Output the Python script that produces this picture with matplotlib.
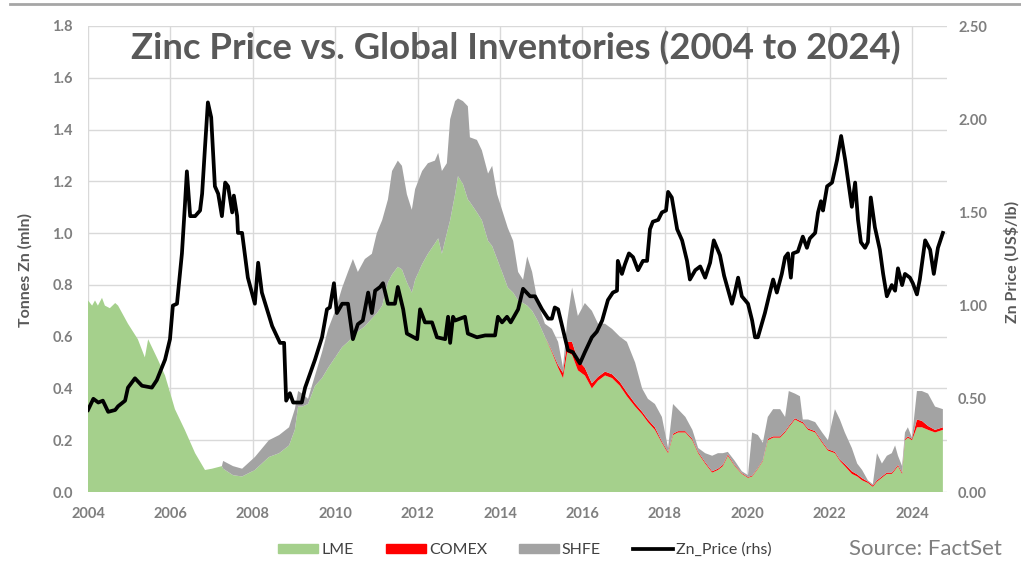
import matplotlib
matplotlib.use("Agg")
import matplotlib.pyplot as plt
from matplotlib.patches import Patch
from matplotlib.lines import Line2D

plt.rcParams['font.family'] = ['Lato', 'DejaVu Sans']

# Inventories (mln tonnes), stacked: LME, COMEX, SHFE
inv_years = [
    2004.00, 2004.10, 2004.17, 2004.24, 2004.34, 2004.41, 2004.53, 2004.66, 2004.73, 2004.97,
    2005.21, 2005.38, 2005.46, 2005.55, 2005.70, 2005.87, 2006.11, 2006.35, 2006.60, 2006.84,
    2007.01, 2007.25, 2007.28, 2007.52, 2007.74, 2008.05, 2008.39, 2008.64, 2008.88, 2009.02,
    2009.10, 2009.20, 2009.34, 2009.51, 2009.68, 2009.83, 2010.00, 2010.17, 2010.31, 2010.43,
    2010.55, 2010.72, 2010.89, 2011.01, 2011.14, 2011.28, 2011.38, 2011.52, 2011.62, 2011.74,
    2011.86, 2011.94, 2012.11, 2012.25, 2012.42, 2012.50, 2012.59, 2012.71, 2012.79, 2012.91,
    2012.98, 2013.10, 2013.22, 2013.27, 2013.44, 2013.56, 2013.71, 2013.81, 2013.93, 2014.05,
    2014.19, 2014.32, 2014.44, 2014.56, 2014.66, 2014.78, 2014.92, 2015.09, 2015.26, 2015.41,
    2015.53, 2015.63, 2015.75, 2015.89, 2016.06, 2016.23, 2016.38, 2016.55, 2016.72, 2016.91,
    2017.08, 2017.28, 2017.45, 2017.59, 2017.76, 2017.93, 2018.08, 2018.20, 2018.32, 2018.50,
    2018.67, 2018.81, 2018.98, 2019.15, 2019.29, 2019.41, 2019.53, 2019.70, 2019.87, 2020.02,
    2020.12, 2020.26, 2020.38, 2020.50, 2020.63, 2020.80, 2020.92, 2021.01, 2021.16, 2021.28,
    2021.35, 2021.48, 2021.65, 2021.82, 2021.96, 2022.13, 2022.25, 2022.37, 2022.54, 2022.67,
    2022.79, 2022.93, 2023.05, 2023.15, 2023.27, 2023.39, 2023.51, 2023.59, 2023.66, 2023.76,
    2023.83, 2023.90, 2024.00, 2024.12, 2024.24, 2024.39, 2024.56, 2024.75,
]
lme = [
    0.74, 0.72, 0.74, 0.72, 0.75, 0.72, 0.71, 0.73, 0.72, 0.65,
    0.59, 0.52, 0.59, 0.56, 0.51, 0.45, 0.32, 0.24, 0.15, 0.085,
    0.09, 0.10, 0.09, 0.065, 0.06, 0.085, 0.135, 0.15, 0.18, 0.24,
    0.33, 0.33, 0.34, 0.41, 0.44, 0.48, 0.52, 0.56, 0.58, 0.60,
    0.62, 0.64, 0.67, 0.69, 0.72, 0.81, 0.84, 0.87, 0.86, 0.81,
    0.77, 0.82, 0.88, 0.92, 0.96, 0.98, 0.92, 1.00, 1.05, 1.15,
    1.22, 1.19, 1.13, 1.12, 1.08, 1.05, 0.97, 0.95, 0.90, 0.85,
    0.79, 0.77, 0.74, 0.73, 0.72, 0.70, 0.66, 0.60, 0.54, 0.48,
    0.44, 0.54, 0.53, 0.47, 0.45, 0.40, 0.43, 0.45, 0.44, 0.41,
    0.37, 0.33, 0.30, 0.27, 0.24, 0.19, 0.15, 0.22, 0.23, 0.23,
    0.20, 0.15, 0.11, 0.075, 0.085, 0.10, 0.14, 0.10, 0.07, 0.055,
    0.06, 0.09, 0.12, 0.20, 0.21, 0.21, 0.23, 0.25, 0.28, 0.27,
    0.265, 0.24, 0.23, 0.19, 0.16, 0.15, 0.12, 0.10, 0.07, 0.06,
    0.045, 0.035, 0.02, 0.04, 0.055, 0.07, 0.07, 0.085, 0.10, 0.07,
    0.20, 0.21, 0.20, 0.25, 0.25, 0.24, 0.23, 0.24,
]
comex = [
    0, 0, 0, 0, 0, 0, 0, 0, 0, 0,
    0, 0, 0, 0, 0, 0, 0, 0, 0, 0,
    0, 0, 0, 0, 0, 0, 0, 0, 0, 0,
    0, 0, 0, 0, 0, 0, 0, 0, 0, 0,
    0, 0, 0, 0, 0, 0, 0, 0, 0, 0,
    0, 0, 0, 0, 0, 0, 0, 0, 0, 0,
    0, 0, 0, 0, 0, 0, 0, 0, 0, 0,
    0, 0, 0, 0, 0, 0, 0, 0, 0.005, 0.01,
    0.02, 0.04, 0.05, 0.04, 0.03, 0.02, 0.015, 0.015, 0.015, 0.015,
    0.015, 0.012, 0.01, 0.01, 0.01, 0.005, 0.005, 0.005, 0.005, 0.005,
    0.005, 0.005, 0.005, 0.005, 0.005, 0.005, 0.005, 0.003, 0.003, 0.003,
    0.003, 0.003, 0.003, 0.005, 0.005, 0.005, 0.005, 0.005, 0.005, 0.005,
    0.005, 0.005, 0.005, 0.005, 0.005, 0.005, 0.005, 0.008, 0.01, 0.008,
    0.008, 0.005, 0.005, 0.005, 0.005, 0.005, 0.005, 0.005, 0.005, 0.005,
    0.005, 0.005, 0.005, 0.03, 0.025, 0.015, 0.01, 0.01,
]
shfe = [
    0, 0, 0, 0, 0, 0, 0, 0, 0, 0,
    0, 0, 0, 0, 0, 0, 0, 0, 0, 0,
    0, 0, 0.03, 0.035, 0.03, 0.05, 0.065, 0.07, 0.07, 0.08,
    0.06, 0.05, 0.02, 0.04, 0.10, 0.15, 0.18, 0.23, 0.27, 0.30,
    0.23, 0.26, 0.25, 0.31, 0.33, 0.32, 0.40, 0.41, 0.40, 0.34,
    0.32, 0.35, 0.36, 0.35, 0.32, 0.33, 0.32, 0.27, 0.39, 0.36,
    0.30, 0.32, 0.36, 0.25, 0.28, 0.27, 0.26, 0.31, 0.25, 0.24,
    0.23, 0.20, 0.11, 0.09, 0.19, 0.15, 0.07, 0.05, 0.085, 0.09,
    0.02, 0.08, 0.21, 0.17, 0.25, 0.28, 0.205, 0.185, 0.175, 0.175,
    0.195, 0.158, 0.09, 0.08, 0.09, 0.095, 0.015, 0.115, 0.085, 0.055,
    0.035, 0.015, 0.035, 0.06, 0.06, 0.045, 0.01, 0.017, 0.007, 0.007,
    0.167, 0.127, 0.067, 0.085, 0.105, 0.105, 0.055, 0.135, 0.095, 0.095,
    0.01, 0.035, 0.035, 0.035, 0.035, 0.165, 0.155, 0.122, 0.09, 0.042,
    0.032, 0.005, 0.005, 0.105, 0.05, 0.065, 0.075, 0.09, 0.035, 0.025,
    0.025, 0.035, 0.005, 0.11, 0.115, 0.125, 0.09, 0.07,
]

# Zinc price (US$/lb, right axis)
price_years = [
    2004.00, 2004.13, 2004.25, 2004.36, 2004.49, 2004.66, 2004.73, 2004.90, 2004.97, 2005.14,
    2005.31, 2005.55, 2005.67, 2005.87, 2005.99, 2006.06, 2006.16, 2006.28, 2006.35, 2006.40,
    2006.48, 2006.60, 2006.72, 2006.77, 2006.84, 2006.91, 2006.99, 2007.03, 2007.08, 2007.16,
    2007.25, 2007.33, 2007.40, 2007.50, 2007.54, 2007.62, 2007.64, 2007.74, 2007.88, 2008.05,
    2008.13, 2008.22, 2008.47, 2008.66, 2008.76, 2008.81, 2008.90, 2008.98, 2009.19, 2009.27,
    2009.51, 2009.68, 2009.80, 2009.87, 2009.97, 2010.04, 2010.17, 2010.31, 2010.43, 2010.55,
    2010.67, 2010.80, 2010.89, 2010.97, 2011.09, 2011.16, 2011.28, 2011.45, 2011.52, 2011.65,
    2011.74, 2011.99, 2012.06, 2012.18, 2012.35, 2012.47, 2012.67, 2012.74, 2012.79, 2012.86,
    2012.91, 2013.15, 2013.22, 2013.44, 2013.64, 2013.88, 2013.95, 2014.05, 2014.17, 2014.26,
    2014.44, 2014.56, 2014.73, 2014.85, 2015.02, 2015.17, 2015.26, 2015.33, 2015.41, 2015.53,
    2015.65, 2015.77, 2015.94, 2016.06, 2016.23, 2016.35, 2016.48, 2016.62, 2016.74, 2016.84,
    2016.86, 2016.96, 2017.03, 2017.13, 2017.23, 2017.35, 2017.47, 2017.57, 2017.64, 2017.71,
    2017.84, 2017.93, 2018.03, 2018.08, 2018.17, 2018.30, 2018.42, 2018.54, 2018.61, 2018.74,
    2018.86, 2018.98, 2019.10, 2019.19, 2019.34, 2019.44, 2019.63, 2019.70, 2019.78, 2019.87,
    2020.02, 2020.12, 2020.19, 2020.26, 2020.43, 2020.55, 2020.63, 2020.72, 2020.84, 2020.92,
    2020.99, 2021.06, 2021.11, 2021.23, 2021.35, 2021.45, 2021.52, 2021.65, 2021.72, 2021.79,
    2021.84, 2021.94, 2022.06, 2022.18, 2022.28, 2022.38, 2022.45, 2022.54, 2022.62, 2022.69,
    2022.76, 2022.86, 2022.93, 2023.00, 2023.10, 2023.22, 2023.30, 2023.39, 2023.51, 2023.59,
    2023.66, 2023.76, 2023.83, 2023.95, 2024.02, 2024.12, 2024.19, 2024.32, 2024.44, 2024.53,
    2024.63, 2024.75,
]
price = [
    0.44, 0.50, 0.48, 0.49, 0.43, 0.44, 0.46, 0.49, 0.56, 0.61,
    0.57, 0.56, 0.60, 0.71, 0.82, 1.00, 1.01, 1.28, 1.53, 1.72,
    1.48, 1.48, 1.51, 1.60, 1.85, 2.09, 2.01, 1.85, 1.64, 1.60,
    1.48, 1.66, 1.64, 1.50, 1.59, 1.48, 1.39, 1.39, 1.15, 1.01,
    1.23, 1.07, 0.89, 0.80, 0.80, 0.49, 0.53, 0.48, 0.48, 0.56,
    0.71, 0.83, 0.98, 0.99, 1.12, 0.96, 1.01, 1.01, 0.82, 0.90,
    0.92, 1.07, 0.96, 1.08, 1.10, 1.12, 1.01, 1.01, 1.10, 0.98,
    0.85, 0.82, 0.98, 0.91, 0.91, 0.83, 0.82, 0.94, 0.80, 0.94,
    0.92, 0.94, 0.85, 0.83, 0.84, 0.84, 0.94, 0.91, 0.94, 0.91,
    0.98, 1.09, 1.05, 1.05, 0.98, 0.93, 0.93, 0.99, 0.98, 0.87,
    0.76, 0.75, 0.69, 0.75, 0.83, 0.86, 0.92, 1.03, 1.07, 1.08,
    1.24, 1.17, 1.22, 1.28, 1.26, 1.19, 1.24, 1.24, 1.41, 1.45,
    1.46, 1.50, 1.51, 1.61, 1.58, 1.41, 1.35, 1.24, 1.14, 1.19,
    1.21, 1.15, 1.23, 1.35, 1.27, 1.16, 1.01, 1.07, 1.15, 1.05,
    1.01, 0.92, 0.83, 0.83, 0.96, 1.07, 1.14, 1.07, 1.17, 1.26,
    1.28, 1.15, 1.28, 1.29, 1.37, 1.31, 1.36, 1.39, 1.50, 1.56,
    1.51, 1.64, 1.66, 1.78, 1.91, 1.78, 1.67, 1.53, 1.66, 1.46,
    1.34, 1.31, 1.34, 1.58, 1.42, 1.30, 1.17, 1.05, 1.11, 1.08,
    1.20, 1.11, 1.17, 1.15, 1.12, 1.06, 1.14, 1.35, 1.30, 1.17,
    1.31, 1.39,
]

x_ticks = list(range(2004, 2025, 2))
left_ticks = [0.0, 0.2, 0.4, 0.6, 0.8, 1.0, 1.2, 1.4, 1.6, 1.8]
right_ticks = [0.0, 0.5, 1.0, 1.5, 2.0, 2.5]

GREEN = '#a5d08c'
RED = '#ff0000'
GREY = '#a3a3a3'
TICK_COL = '#7f7f7f'
DARK = '#595959'

fig = plt.figure(figsize=(10.21, 5.66), dpi=100)
ax = fig.add_axes([88 / 1021, 1 - 492 / 566, (947 - 88) / 1021, (492 - 26) / 566])

ax.stackplot(inv_years, lme, comex, shfe, colors=[GREEN, RED, GREY], linewidth=0)
ax.set_xlim(2004, 2024.85)
ax.set_ylim(0, 1.8)
ax.set_xticks(x_ticks)
ax.set_yticks(left_ticks)
ax.set_yticklabels([f'{v:.1f}' for v in left_ticks])
ax.grid(True, color='#d9d9d9', linewidth=1)
ax.set_axisbelow(True)
for s in ax.spines.values():
    s.set_visible(False)
ax.tick_params(axis='both', length=0, labelsize=10.5, labelcolor=TICK_COL)
ax.tick_params(axis='y', pad=11)
ax.tick_params(axis='x', pad=11)
for lab in ax.get_xticklabels() + ax.get_yticklabels():
    lab.set_fontweight('bold')

ax2 = ax.twinx()
ax2.plot(price_years, price, color='black', linewidth=2.7, solid_joinstyle='round')
ax2.set_ylim(0, 2.5)
ax2.set_yticks(right_ticks)
ax2.set_yticklabels([f'{v:.2f}' for v in right_ticks])
for s in ax2.spines.values():
    s.set_visible(False)
ax2.tick_params(axis='y', length=0, labelsize=10.5, labelcolor=TICK_COL, pad=8)
for lab in ax2.get_yticklabels():
    lab.set_fontweight('bold')

fig.text(516 / 1021, 1 - 48 / 566, 'Zinc Price vs. Global Inventories (2004 to 2024)',
         ha='center', va='center', fontsize=26.3, fontweight='bold', color=DARK)
fig.text(25 / 1021, 1 - 270 / 566, 'Tonnes Zn (mln)', rotation=90, ha='center', va='center',
         fontsize=11.5, fontweight='bold', color=DARK)
fig.text(1012 / 1021, 1 - 262 / 566, 'Zn Price (US$/lb)', rotation=90, ha='center', va='center',
         fontsize=11.5, fontweight='bold', color=DARK)

# top rule of the slide
fig.add_artist(Line2D([10 / 1021, 1.0], [1 - 4 / 566, 1 - 4 / 566], color='#a6a6a6', linewidth=2))

handles = [Patch(color=GREEN), Patch(color=RED), Patch(color=GREY),
           Line2D([], [], color='black', linewidth=2.7)]
labels = ['LME', 'COMEX', 'SHFE', 'Zn_Price (rhs)']
leg = fig.legend(handles, labels, ncol=4, loc='center', bbox_to_anchor=(525 / 1021, 1 - 550 / 566),
                 frameon=False, fontsize=11.5, handlelength=2.5, handleheight=0.55,
                 handletextpad=0.2, columnspacing=2.0)
for t in leg.get_texts():
    t.set_color('#404040')

fig.text(1002 / 1021, 1 - 549 / 566, 'Source: FactSet', ha='right', va='center',
         fontsize=16, color=TICK_COL)

fig.savefig('out.png', dpi=100)
